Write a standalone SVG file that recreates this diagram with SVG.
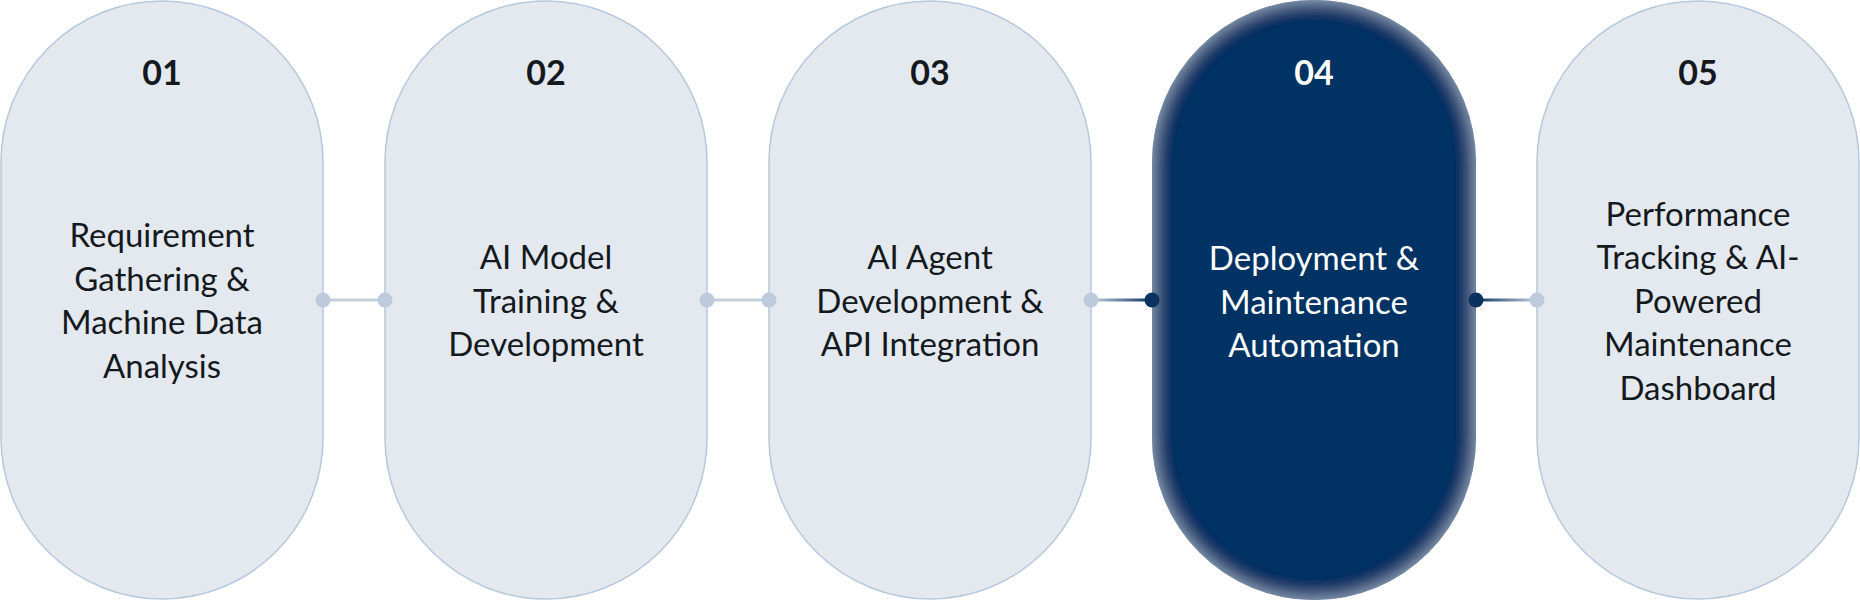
<svg xmlns="http://www.w3.org/2000/svg" width="1860" height="600" viewBox="0 0 1860 600">
<defs>
<style>
.pill{fill:#e4e9ef;stroke:#b6c8dc;stroke-width:1.5}
.pill-dark{fill:#023263}
.num{font-family:Lato,"Noto Sans",sans-serif;font-weight:700;font-size:34px;fill:#141920;text-anchor:middle}
.lbl{font-family:Lato,"Noto Sans",sans-serif;font-weight:400;font-size:33px;fill:#141920;text-anchor:middle}
.light{fill:#ffffff}
.ln{stroke:#c3cfdc;stroke-width:3;fill:none}
.dot{fill:#bccbdb}
.dot-dark{fill:#0b3161}
</style>
<filter id="inset" x="-10%" y="-10%" width="120%" height="120%">
<feFlood flood-color="#9db3cc" result="c"/>
<feComposite in="c" in2="SourceAlpha" operator="out" result="inv"/>
<feGaussianBlur in="inv" stdDeviation="9" result="b"/>
<feComposite in="b" in2="SourceAlpha" operator="in" result="sh"/>
<feMerge><feMergeNode in="SourceGraphic"/><feMergeNode in="sh"/></feMerge>
</filter>
<linearGradient id="gIn" x1="0" y1="0" x2="1" y2="0">
<stop offset="0" stop-color="#c3cfdc"/><stop offset="1" stop-color="#0b3161"/>
</linearGradient>
<linearGradient id="gOut" x1="0" y1="0" x2="1" y2="0">
<stop offset="0" stop-color="#0b3161"/><stop offset="1" stop-color="#c3cfdc"/>
</linearGradient>
</defs>
<rect width="1860" height="600" fill="#ffffff"/>

<g id="step1">
<rect class="pill" x="1" y="1" width="322" height="598" rx="161"/>
<text class="num" x="162" y="85">01</text>
<text class="lbl" x="162" y="247">Requirement</text>
<text class="lbl" x="162" y="290.5">Gathering &amp;</text>
<text class="lbl" x="162" y="334">Machine Data</text>
<text class="lbl" x="162" y="377.5">Analysis</text>
</g>

<g id="step2">
<rect class="pill" x="385" y="1" width="322" height="598" rx="161"/>
<text class="num" x="546" y="85">02</text>
<text class="lbl" x="546" y="269">AI Model</text>
<text class="lbl" x="546" y="312.5">Training &amp;</text>
<text class="lbl" x="546" y="356">Development</text>
</g>

<g id="step3">
<rect class="pill" x="769" y="1" width="322" height="598" rx="161"/>
<text class="num" x="930" y="85">03</text>
<text class="lbl" x="930" y="269">AI Agent</text>
<text class="lbl" x="930" y="312.5">Development &amp;</text>
<text class="lbl" x="930" y="356">API Integration</text>
</g>

<g id="step4">
<rect class="pill-dark" x="1152" y="0" width="324" height="600" rx="162" filter="url(#inset)"/>
<text class="num light" x="1314" y="85">04</text>
<text class="lbl light" x="1314" y="270">Deployment &amp;</text>
<text class="lbl light" x="1314" y="313.5">Maintenance</text>
<text class="lbl light" x="1314" y="357">Automation</text>
</g>

<g id="step5">
<rect class="pill" x="1537" y="1" width="322" height="598" rx="161"/>
<text class="num" x="1698" y="85">05</text>
<text class="lbl" x="1698" y="225.5">Performance</text>
<text class="lbl" x="1698" y="269">Tracking &amp; AI-</text>
<text class="lbl" x="1698" y="312.5">Powered</text>
<text class="lbl" x="1698" y="356">Maintenance</text>
<text class="lbl" x="1698" y="399.5">Dashboard</text>
</g>

<g id="connectors">
<line class="ln" x1="323" y1="300" x2="385" y2="300"/>
<circle class="dot" cx="323" cy="300" r="7.5"/>
<circle class="dot" cx="385" cy="300" r="7.5"/>
<line class="ln" x1="707" y1="300" x2="769" y2="300"/>
<circle class="dot" cx="707" cy="300" r="7.5"/>
<circle class="dot" cx="769" cy="300" r="7.5"/>
<rect x="1091" y="298.5" width="61" height="3" fill="url(#gIn)"/>
<circle class="dot" cx="1091" cy="300" r="7.5"/>
<circle class="dot-dark" cx="1152" cy="300" r="7.5"/>
<rect x="1476" y="298.5" width="61" height="3" fill="url(#gOut)"/>
<circle class="dot-dark" cx="1476" cy="300" r="7.5"/>
<circle class="dot" cx="1537" cy="300" r="7.5"/>
</g>
</svg>
